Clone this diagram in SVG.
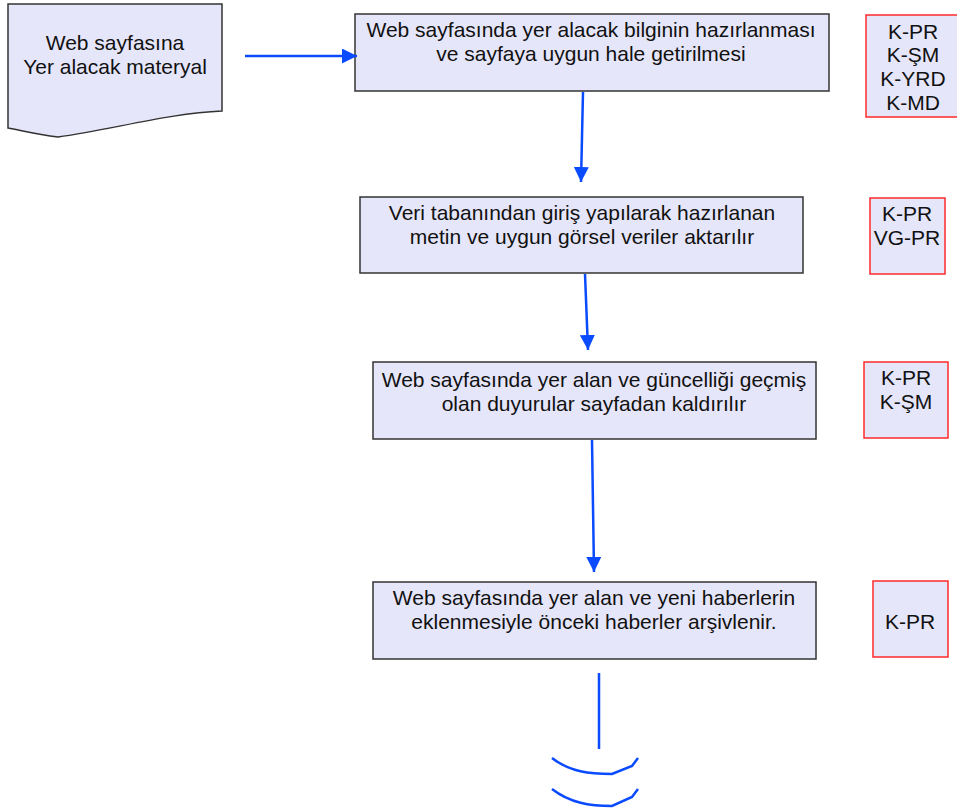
<svg xmlns="http://www.w3.org/2000/svg" width="957" height="811" viewBox="0 0 957 811">
<defs>
<style>
.box{fill:#E6E6FA;stroke:#333;stroke-width:1.5}
.rbox{fill:#E6E6FA;stroke:#FF2A2A;stroke-width:1.5}
.t{font-family:"Liberation Sans",Arial,sans-serif;font-size:21px;fill:#111;text-anchor:middle}
.c{stroke:#0A4BFF;stroke-width:2.5;fill:none}
</style>
<marker id="ah" viewBox="0 0 10 10" refX="10" refY="5" markerWidth="6" markerHeight="6" markerUnits="strokeWidth" orient="auto">
<path d="M0,0 L10,5 L0,10 z" fill="#0A4BFF"/>
</marker>
</defs>
<rect width="957" height="811" fill="#fff"/>
<g id="doc">
<path class="box" d="M8,4 H222 V111 C170,113 110,130 58,137 C35,134 20,130 8,128 Z"/>
<text class="t" x="115" y="50">Web sayfasına</text>
<text class="t" x="115" y="74">Yer alacak materyal</text>
</g>
<g id="n1">
<rect class="box" x="355" y="14" width="474" height="77"/>
<text class="t" x="591" y="37">Web sayfasında yer alacak bilginin hazırlanması</text>
<text class="t" x="591" y="61">ve sayfaya uygun hale getirilmesi</text>
</g>
<g id="r1">
<rect class="rbox" x="866" y="15" width="92" height="102"/>
<text class="t" x="913" y="39">K-PR</text>
<text class="t" x="913" y="62">K-ŞM</text>
<text class="t" x="913" y="86">K-YRD</text>
<text class="t" x="913" y="110">K-MD</text>
</g>
<g id="n2">
<rect class="box" x="360" y="197" width="443" height="76"/>
<text class="t" x="582" y="220">Veri tabanından giriş yapılarak hazırlanan</text>
<text class="t" x="582" y="244">metin ve uygun görsel veriler aktarılır</text>
</g>
<g id="r2">
<rect class="rbox" x="870" y="198" width="75" height="76"/>
<text class="t" x="907" y="221">K-PR</text>
<text class="t" x="907" y="245">VG-PR</text>
</g>
<g id="n3">
<rect class="box" x="373" y="362" width="443" height="77"/>
<text class="t" x="594" y="387">Web sayfasında yer alan ve güncelliği geçmiş</text>
<text class="t" x="594" y="411">olan duyurular sayfadan kaldırılır</text>
</g>
<g id="r3">
<rect class="rbox" x="864" y="362" width="84" height="76"/>
<text class="t" x="906" y="385">K-PR</text>
<text class="t" x="906" y="409">K-ŞM</text>
</g>
<g id="n4">
<rect class="box" x="373" y="582" width="443" height="77"/>
<text class="t" x="594" y="605">Web sayfasında yer alan ve yeni haberlerin</text>
<text class="t" x="594" y="629">eklenmesiyle önceki haberler arşivlenir.</text>
</g>
<g id="r4">
<rect class="rbox" x="873" y="581" width="75" height="76"/>
<text class="t" x="910" y="629">K-PR</text>
</g>
<g id="connectors">
<line class="c" x1="245" y1="56" x2="357" y2="56" marker-end="url(#ah)"/>
<line class="c" x1="583" y1="92" x2="581" y2="182" marker-end="url(#ah)"/>
<line class="c" x1="585" y1="274" x2="588" y2="350" marker-end="url(#ah)"/>
<line class="c" x1="592" y1="440" x2="594" y2="572" marker-end="url(#ah)"/>
<line class="c" x1="599" y1="673" x2="599" y2="749"/>
<path class="c" d="M552,758 C570,772 590,774 612,774 L632,766 L638,758"/>
<path class="c" d="M552,789 C570,803 590,806 612,806 L632,797 L638,789"/>
</g>
</svg>
